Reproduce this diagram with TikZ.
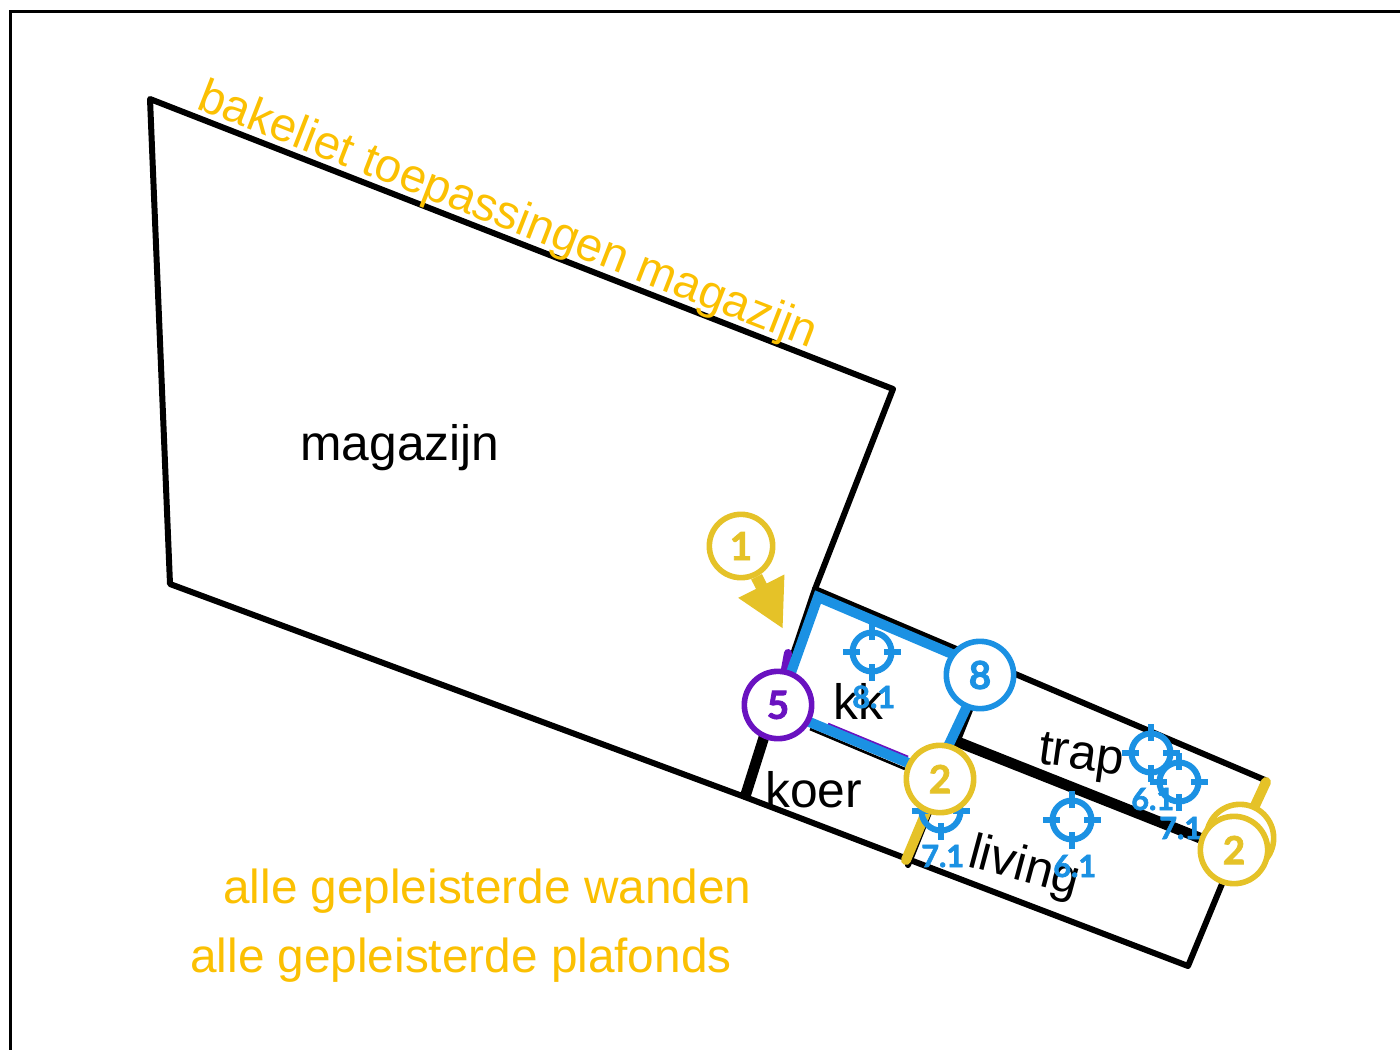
\documentclass[tikz,border=0pt]{standalone}
\usepackage{fontspec}
\setmainfont{Liberation Sans}
\newfontfamily\badgefont[BoldFeatures={FakeBold=2}]{Lato}
\usetikzlibrary{arrows.meta}
\definecolor{planblue}{HTML}{1B91E3}
\definecolor{planyellow}{HTML}{E5C228}
\definecolor{planpurple}{HTML}{6A12C0}
\definecolor{planorange}{HTML}{FBC002}
\newcommand{\bigfont}{\fontsize{37.3}{40}\selectfont}
\newcommand{\noteFont}{\fontsize{35.8}{40}\selectfont}
\tikzset{
    wall/.style={line width=4.5pt,line join=round,line cap=round},
    thickwall/.style={line width=8pt},
    room/.style={inner sep=0pt,anchor=base west,font=\bigfont},
    note/.style={inner sep=0pt,anchor=base west,text=planorange,font=\noteFont},
    badge/.style={circle,draw=#1,text=#1,fill=white,line width=4.2pt,minimum size=50.5pt,inner sep=0pt,font=\badgefont\bfseries\fontsize{29}{29}\selectfont},
    spot/.style={inner sep=0pt,anchor=base west,text=planblue,font=\badgefont\bfseries\fontsize{23}{24}\selectfont},
    crosshair/.pic={
        \draw [planblue,line width=4.5pt] (0,0) circle (19.5);
        \foreach \a in {0,90,180,270} {
            \draw [planblue,line width=4.5pt] (\a:12) -- (\a:29);
        }
    }
}
\begin{document}
\begin{tikzpicture}[x=0.75pt,y=-0.75pt]
    \useasboundingbox (0,0) rectangle (1400,1050);
    % frame
    \draw [line width=2.25pt] (10,1050) -- (10,11) -- (1400,11);
    % walls
    \coordinate (magA) at (150,99);
    \coordinate (magB) at (893,389);
    \coordinate (magC) at (815,589);
    \coordinate (magD) at (170,584);
    \coordinate (koerA) at (745,797);
    \coordinate (livA) at (1188,966);
    \coordinate (livB) at (1265,780);
    \draw [wall] (koerA) -- (magD) -- (magA) -- (magB) -- (magC) -- (koerA);
    \draw [wall] (magC) -- (livB) -- (livA) -- (koerA);
    \draw [wall] (970,710) -- (908,865);
    \draw [thickwall] (764,737) -- (koerA);
    \draw [thickwall] (958,742) -- (1200,838);
    % kk outline
    \draw [line width=2pt] (810,729) -- (905,769);
    \draw [planpurple,line width=6pt,line cap=round] (788,653) -- (783,680);
    \draw [planpurple,line width=2pt] (828,724) -- (908,757);
    \draw [planblue,line width=7.5pt,line join=miter] (818,597) -- (985,668) -- (935,774) -- (778,709) -- cycle;
    % yellow wall pieces
    \draw [planyellow,line width=7.5pt,line cap=round] (940,779) -- (906,860);
    \draw [planyellow,line width=7.5pt,line cap=round] (1266,782) -- (1240,838);
    % spots
    \pic at (872,652) {crosshair};
    \pic at (1151,753) {crosshair};
    \pic at (1179,782) {crosshair};
    \pic at (1072,820) {crosshair};
    \pic at (941,811) {crosshair};
    % room names
    \node [room] (magazijn) at (300,460) {magazijn};
    \node [room] (kk) at (833,719) {kk};
    \node [room] (koer) at (765,807) {koer};
    \node [room,rotate=-8] (trap) at (1037,763) {trap};
    \node [room,rotate=-15] (living) at (966,866) {living};
    % notes
    \node [note,rotate=-21.3] (noteMag) at (195,108) {\fontsize{35.5}{40}\selectfont bakeliet toepassingen magazijn};
    \node [note] (noteWall) at (223,903) {alle gepleisterde wanden};
    \node [note] (notePlaf) at (190,972) {alle gepleisterde plafonds};
    % spot labels
    \node [spot] (spotA) at (852,708) {8.1};
    \node [spot] (spotB) at (1131,810) {6.1};
    \node [spot] (spotC) at (1159,839) {7.1};
    \node [spot] (spotD) at (1053,877) {6.1};
    \node [spot] (spotE) at (921,867) {7.1};
    % badges
    \node [badge=planyellow,minimum size=47.5pt] (one) at (741,546) {1};
    \coordinate (oneTip) at (783,629);
    \draw [planyellow,line width=9pt,-{Triangle[width=36pt,length=36pt]}] (one) -- (oneTip);
    \node [badge=planpurple] (five) at (778,705) {5};
    \node [badge=planblue] (eight) at (980,675) {8};
    \node [badge=planyellow] (twoA) at (940,779) {2};
    \node [badge=planyellow] (twoB) at (1240,838) {2};
    \node [badge=planyellow] (twoC) at (1234,850) {2};
\end{tikzpicture}
\end{document}
